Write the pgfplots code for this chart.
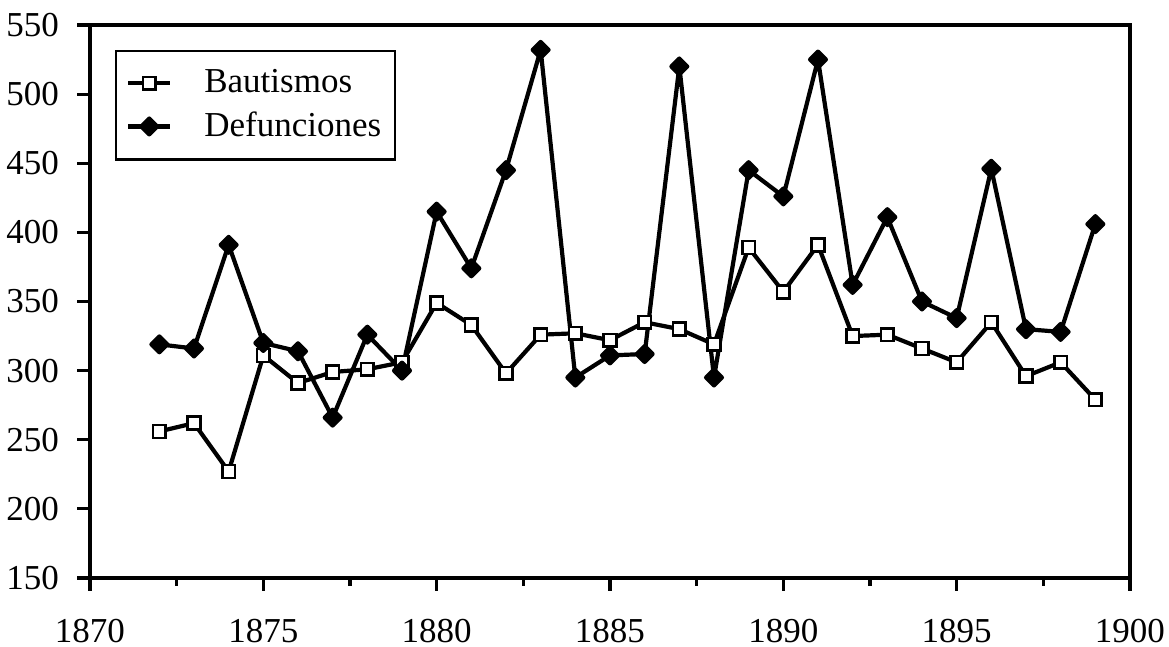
\documentclass[border=0pt]{standalone}
\usepackage{fontspec}
\setmainfont{Liberation Serif}
\usepackage{pgfplots}
\pgfplotsset{compat=1.18}
\begin{document}
\fontsize{17.5}{21}\selectfont
\begin{tikzpicture}
\begin{axis}[
  at={(0,0)}, anchor=south west,
  scale only axis, width=520pt, height=276.5pt,
  xmin=1870, xmax=1900, ymin=150, ymax=550,
  xtick={1870,1875,...,1900}, ytick={150,200,...,550},
  minor xtick={1872.5,1877.5,...,1897.5},
  tick align=outside, xtick pos=bottom, ytick pos=left,
  major tick length=6.5pt, minor tick length=4pt,
  axis line style={line width=1.6pt},
  every tick/.style={line width=1.6pt, black},
  /pgf/number format/assume math mode=true,
  /pgf/number format/1000 sep={},
  ticklabel style={font=\fontsize{17.5}{21}\selectfont},
  xticklabel style={yshift=-8pt},
  yticklabel style={xshift=-3pt},
  legend style={at={(0.024,0.955)}, anchor=north west, draw=black, line width=1.2pt,
    font=\fontsize{17.5}{21}\selectfont, inner xsep=5pt, inner ysep=7pt,
    row sep=3pt,
    /tikz/every odd column/.append style={column sep=14pt}},
  legend cell align=left,
  legend image code/.code={\draw[mark repeat=2,mark phase=2] plot coordinates {(0pt,0pt)(10.5pt,0pt)(21pt,0pt)};},
]
\addplot[black, line width=2.1pt, line join=round, mark=square*, mark options={fill=white, line width=1.3pt, solid, line join=miter}, mark size=3.2pt]
coordinates {
(1872,256) (1873,262) (1874,227) (1875,311) (1876,291) (1877,299) (1878,301) (1879,306)
(1880,349) (1881,333) (1882,298) (1883,326) (1884,327) (1885,322) (1886,335) (1887,330)
(1888,319) (1889,389) (1890,357) (1891,391) (1892,325) (1893,326) (1894,316) (1895,306)
(1896,335) (1897,296) (1898,306) (1899,279)
};
\addlegendentry{Bautismos}
\addplot[black, line width=2.1pt, line join=round, mark=square*, mark options={fill=black, solid, rotate=45}, mark size=2.8pt]
coordinates {
(1872,319) (1873,316) (1874,391) (1875,320) (1876,314) (1877,266) (1878,326) (1879,300)
(1880,415) (1881,374) (1882,445) (1883,532) (1884,295) (1885,311) (1886,312) (1887,520)
(1888,295) (1889,445) (1890,426) (1891,525) (1892,362) (1893,411) (1894,350) (1895,338)
(1896,446) (1897,330) (1898,328) (1899,406)
};
\addlegendentry{Defunciones}
\end{axis}
\pgfresetboundingbox
\path[use as bounding box] (-45pt,-34.5pt) rectangle (539.5pt,289pt);
\end{tikzpicture}
\end{document}
